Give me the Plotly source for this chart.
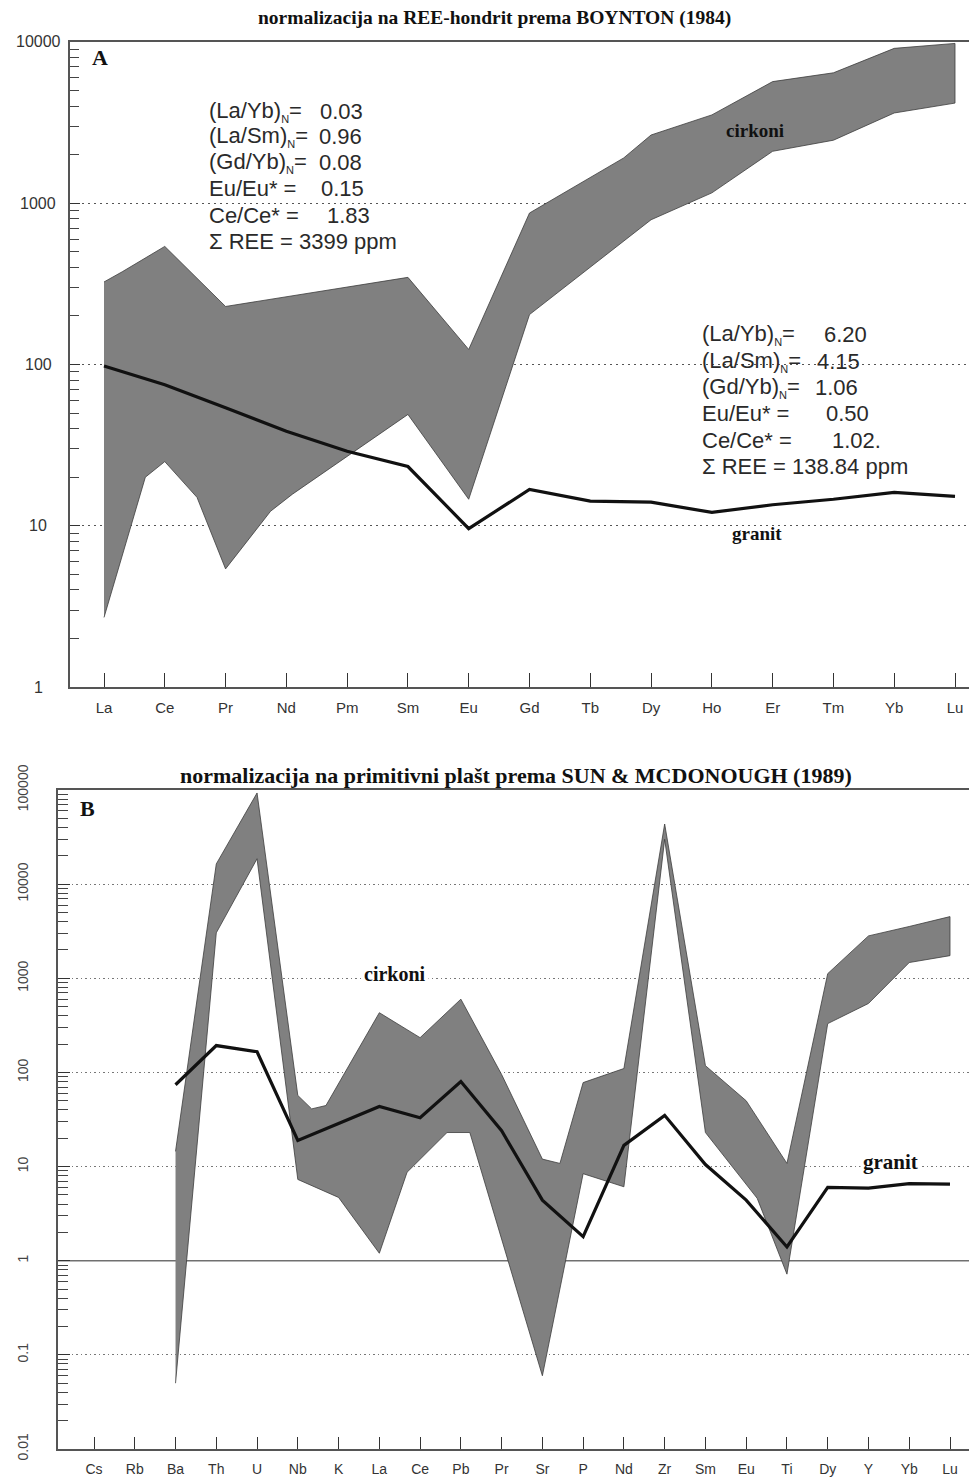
import math
import plotly.graph_objects as go

# ---------------- Chart A data (chondrite-normalised REE, Boynton 1984) ----------------
elements_A = ["La", "Ce", "Pr", "Nd", "Pm", "Sm", "Eu", "Gd", "Tb", "Dy", "Ho", "Er", "Tm", "Yb", "Lu"]
granit_A = [98, 75, 54, 38.5, 29, 23.3, 9.6, 16.8, 14.2, 14.0, 12.1, 13.5, 14.6, 16.1, 15.2]
# zircon envelope (index position along element axis, value)
cirkoni_A_upper_x = [0, 0.3, 1, 2, 5, 6, 7, 8.55, 9, 10, 11, 12, 13, 14]
cirkoni_A_upper = [325, 376, 540, 229, 347, 124, 870, 1910, 2650, 3530, 5680, 6440, 9130, 9800]
cirkoni_A_lower_x = [0, 0.68, 1, 1.53, 2, 2.74, 3.1, 5, 6, 7, 9, 10, 11, 12, 13, 14]
cirkoni_A_lower = [2.7, 20, 25, 15, 5.4, 12.3, 15.7, 49, 14.6, 204, 790, 1160, 2100, 2460, 3630, 4180]
yticks_A = [1, 10, 100, 1000, 10000]

# ---------------- Chart B data (primitive-mantle normalised, Sun & McDonough 1989) ----------------
elements_B = ["Cs", "Rb", "Ba", "Th", "U", "Nb", "K", "La", "Ce", "Pb", "Pr", "Sr", "P", "Nd",
              "Zr", "Sm", "Eu", "Ti", "Dy", "Y", "Yb", "Lu"]
granit_B_x = list(range(2, 22))
granit_B = [74, 193, 166, 18.9, 28.7, 43.5, 33, 80, 24, 4.4, 1.8, 16.8, 35, 10.5, 4.4, 1.4, 6.0, 5.9, 6.6, 6.5]
cirkoni_B_upper_x = [2, 3, 4, 5, 5.34, 5.69, 7, 8, 9, 10, 11, 11.43, 12, 13, 14, 15, 16, 17, 18, 19, 20, 21]
cirkoni_B_upper = [14.5, 16400, 93000, 57, 41, 44.5, 431, 234, 600, 95, 12, 10.8, 78, 110, 43500,
                   118, 50, 10.8, 1120, 2820, 3550, 4520]
cirkoni_B_lower_x = [2, 3, 4, 5, 6, 7, 7.68, 8.66, 9.22, 11, 12, 13, 14, 15, 16.27, 17, 18, 19, 20, 21]
cirkoni_B_lower = [0.05, 3040, 18600, 7.3, 4.7, 1.2, 8.7, 23, 23, 0.06, 8.4, 6.1, 30000, 23, 4.6,
                   0.72, 330, 540, 1470, 1740]
yticks_B = [0.01, 0.1, 1, 10, 100, 1000, 10000, 100000]
yticklabels_B = ["0.01", "0.1", "1", "10", "100", "1000", "10000", "100000"]

# ---------------- layout geometry (page pixels; the page body adds an 8 px margin) ----------------
OFF = 8
PAGE_W, PAGE_H = 977, 1481
W, H = PAGE_W - OFF, PAGE_H - OFF
A_left, A_top, A_bottom = 70, 42, 687
B_left, B_top, B_bottom = 58, 790, 1449
A_first, A_step = 104, 851 / 14
B_first, B_step = 94, 856 / 21


def fx(x):
    return (x - OFF) / W


def fy(y):
    return 1 - (y - OFF) / H


fig = go.Figure()

# A
fig.add_trace(go.Scatter(
    x=cirkoni_A_upper_x + cirkoni_A_lower_x[::-1],
    y=cirkoni_A_upper + cirkoni_A_lower[::-1],
    fill="toself", fillcolor="#808080", mode="lines",
    line=dict(color="#3c3c3c", width=0.8), xaxis="x", yaxis="y", hoverinfo="skip"))
fig.add_trace(go.Scatter(
    x=list(range(len(elements_A))), y=granit_A, mode="lines",
    line=dict(color="#111111", width=3.2), xaxis="x", yaxis="y"))

# B
xrA = [(A_left - A_first) / A_step, (PAGE_W - A_first) / A_step]
xrB = [(B_left - B_first) / B_step, (PAGE_W - B_first) / B_step]
fig.add_trace(go.Scatter(x=xrB, y=[1, 1], mode="lines",
                         line=dict(color="#707070", width=1.6), xaxis="x2", yaxis="y2", hoverinfo="skip"))
fig.add_trace(go.Scatter(
    x=cirkoni_B_upper_x + cirkoni_B_lower_x[::-1],
    y=cirkoni_B_upper + cirkoni_B_lower[::-1],
    fill="toself", fillcolor="#808080", mode="lines",
    line=dict(color="#3c3c3c", width=0.8), xaxis="x2", yaxis="y2", hoverinfo="skip"))
fig.add_trace(go.Scatter(
    x=granit_B_x, y=granit_B, mode="lines",
    line=dict(color="#111111", width=3.2), xaxis="x2", yaxis="y2"))

sans = "Liberation Sans, Arial, sans-serif"
narrow_font = dict(family="Liberation Sans Narrow, Arial Narrow, Liberation Sans, sans-serif", size=15,
                   color="#333333")

fig.update_layout(
    width=W, height=H, margin=dict(l=0, r=0, t=0, b=0, autoexpand=False),
    paper_bgcolor="white", plot_bgcolor="white", showlegend=False,
    xaxis=dict(domain=[fx(A_left), 1], anchor="y", automargin=False,
               range=xrA,
               tickmode="array", tickvals=list(range(len(elements_A))), ticktext=elements_A,
               ticks="inside", ticklen=14, tickwidth=1.2, tickcolor="#333",
               showline=True, linecolor="#555", linewidth=2, mirror=True,
               showgrid=False, zeroline=False, tickfont=narrow_font, ticklabelstandoff=6),
    yaxis=dict(domain=[fy(A_bottom), fy(A_top)], anchor="x", type="log", range=[0, 4], automargin=False,
               tickmode="array", tickvals=yticks_A, showticklabels=False,
               ticks="inside", ticklen=10, tickwidth=1.2, tickcolor="#333",
               minor=dict(ticks="inside", ticklen=9, dtick="D1", tickcolor="#444", showgrid=False),
               showline=True, linecolor="#555", linewidth=2,
               showgrid=True, gridcolor="#555", gridwidth=1.3, griddash="2px,4px",
               zeroline=False),
    xaxis2=dict(domain=[fx(B_left), 1], anchor="y2", automargin=False,
                range=xrB,
                tickmode="array", tickvals=list(range(len(elements_B))), ticktext=elements_B,
                ticks="inside", ticklen=12, tickwidth=1.2, tickcolor="#333",
                showline=True, linecolor="#555", linewidth=2, mirror=True,
                showgrid=False, zeroline=False,
                tickfont=dict(family=narrow_font["family"], size=14, color="#333"), ticklabelstandoff=6),
    yaxis2=dict(domain=[fy(B_bottom), fy(B_top)], anchor="x2", type="log", range=[-2, 5], automargin=False,
                tickmode="array", tickvals=yticks_B, ticktext=yticklabels_B, tickangle=-90,
                ticks="inside", ticklen=12, tickwidth=1.2, tickcolor="#333",
                minor=dict(ticks="inside", ticklen=10, dtick="D1", tickcolor="#444", showgrid=False),
                showline=True, linecolor="#555", linewidth=2,
                showgrid=True, gridcolor="#777", gridwidth=1.3, griddash="1.5px,3px",
                zeroline=False, tickfont=dict(family=sans, size=14, color="#444"),
                ticklabelstandoff=22),
)

ann = []
serif_b = "Liberation Serif, Times New Roman, serif"


def text(x, y, s, size, family, color="#111", xanchor="left", bold=False, bg=None):
    d = dict(x=fx(x), y=fy(y), xref="paper", yref="paper", text=("<b>%s</b>" % s) if bold else s,
             showarrow=False, xanchor=xanchor, yanchor="middle",
             font=dict(size=size, family=family, color=color))
    if bg:
        d["bgcolor"] = bg
        d["borderpad"] = 2
    ann.append(d)


# A y-axis tick labels (centred, as in the original)
for v in yticks_A:
    ann.append(dict(x=fx(38), xref="paper", y=math.log10(v), yref="y", text=str(v),
                    showarrow=False, xanchor="center", yanchor="middle",
                    font=dict(size=16, family=sans, color="#333")))

# titles
text(494, 18, "normalizacija na REE-hondrit prema BOYNTON (1984)", 19.5, serif_b, xanchor="center", bold=True)
text(516, 775, "normalizacija na primitivni plašt prema SUN &amp; MCDONOUGH (1989)", 22, serif_b,
     xanchor="center", bold=True)
text(90, 57, "A", 22, serif_b, bold=True)
text(78, 808, "B", 22, serif_b, bold=True)

# labels
text(755, 130, "cirkoni", 19, serif_b, xanchor="center", bold=True)
text(757, 533, "granit", 19, serif_b, xanchor="center", bold=True)
text(395, 974, "cirkoni", 20, serif_b, xanchor="center", bold=True, bg="white")
text(890, 1162, "granit", 21, serif_b, xanchor="center", bold=True, bg="white")

tc = "#2a2a2a"
fs = 22
sub_n = "<sub><span style='font-size:11px'>N</span></sub>"
# zircon statistics block
blk1_labels = ["(La/Yb)" + sub_n + "=", "(La/Sm)" + sub_n + "=", "(Gd/Yb)" + sub_n + "=", "Eu/Eu* =", "Ce/Ce* ="]
blk1_values = ["0.03", "0.96", "0.08", "0.15", "1.83"]
blk1_y = [112, 137, 163, 189, 215]
blk1_vx = [318, 317, 317, 319, 325]
for lab, val, yy, vx in zip(blk1_labels, blk1_values, blk1_y, blk1_vx):
    text(207, yy, lab, fs, sans, color=tc)
    text(vx, yy, val, fs, sans, color=tc)
text(207, 241, "Σ REE = 3399 ppm", fs, sans, color=tc)

# granite statistics block
blk2_values = ["6.20", "4.15", "1.06", "0.50", "1.02."]
blk2_y = [335, 361, 387, 413, 440]
blk2_vx = [822, 815, 813, 824, 830]
for lab, val, yy, vx in zip(blk1_labels, blk2_values, blk2_y, blk2_vx):
    text(700, yy, lab, fs, sans, color=tc)
    text(vx, yy, val, fs, sans, color=tc)
text(700, 467, "Σ REE = 138.84 ppm", fs, sans, color=tc)

fig.update_layout(annotations=ann)
fig.write_html("out.html")
